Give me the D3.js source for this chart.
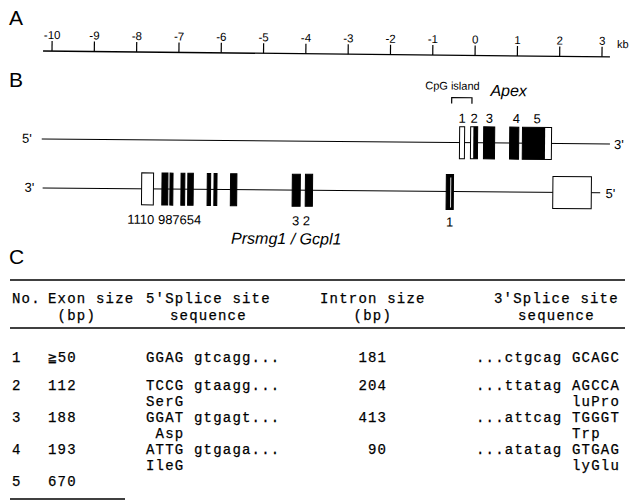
<!DOCTYPE html>
<html>
<head>
<meta charset="utf-8">
<script src="https://cdn.jsdelivr.net/npm/d3@7"></script>
<style>
  body { margin: 0; background: #fff; }
  svg { display: block; }
  text { font-family: "Liberation Sans", Arial, sans-serif; fill: #000; }
  .mono { font-family: "Liberation Mono", "Courier New", monospace; white-space: pre; stroke: #000; stroke-width: 0.25px; }
</style>
</head>
<body>
<svg id="fig" width="629" height="502"></svg>
<script>
// ---- panel A: kb scale ----
const kbTicks = [-10, -9, -8, -7, -6, -5, -4, -3, -2, -1, 0, 1, 2, 3];

// ---- panel B: Apex (upper strand), exon limits in kb ----
const apexExonNo = [1, 2, 3, 4, 5];
const apexStart  = [-0.355, -0.095, 0.213, 0.829, 1.130];
const apexEnd    = [-0.237,  0.071, 0.474, 1.043, 1.818];
const apexCdsStart = [null, -0.030, 0.213, 0.829, 1.130];
const apexCdsEnd   = [null,  0.071, 0.474, 1.043, 1.666];
const cpgIsland = [-0.62, -0.07];

// ---- panel B: Prsmg1 / Gcpl1 (lower strand) ----
const prsmgExonNo = [11, 10, 9, 8, 7, 6, 5, 4, 3, 2, 1];
const prsmgStart  = [-7.86, -7.38, -7.19, -6.93, -6.77, -6.31, -6.15, -5.76, -4.30, -3.99, -0.66];
const prsmgEnd    = [-7.58, -7.24, -7.12, -6.84, -6.64, -6.23, -6.08, -5.61, -4.11, -3.82, -0.49];
const prsmgCoding = [false, true, true, true, true, true, true, true, true, true, true];
const prsmgLabelRuns = ["1110 987654", "3 2", "1"];
const otherExon = [1.86, 2.77];
const upperLine = [-10.23, 3.20];
const lowerLine = [-10.20, 2.98];

// ---- panel C: table ----
const headerTop = ["No.", "Exon size", "5'Splice site", "Intron size", "3'Splice site"];
const headerBottom = ["", "(bp)", "sequence", "(bp)", "sequence"];
const rowNo      = ["1", "2", "3", "4", "5"];
const exonSize   = ["\u226750", "112", "188", "193", "670"];
const splice5    = ["GGAG gtcagg...", "TCCG gtaagg...", "GGAT gtgagt...", "ATTG gtgaga...", ""];
const splice5Aa  = ["", "SerG", " Asp", "IleG", ""];
const intronSize = ["181", "204", "413", "90", ""];
const splice3    = ["...ctgcag GCAGC", "...ttatag AGCCA", "...attcag TGGGT", "...atatag GTGAG", ""];
const splice3Aa  = ["", "          luPro", "          Trp", "          lyGlu", ""];

const svg = d3.select("#fig");
const x = d3.scaleLinear().domain([-10, 3]).range([51.5, 601.5]);

// panel letters
svg.selectAll("text.panel")
  .data([["A", 25], ["B", 87], ["C", 264]])
  .enter().append("text")
  .attr("class", "panel")
  .attr("x", 9).attr("y", d => d[1])
  .style("font-size", "21px")
  .text(d => d[0]);

// ---- A: axis (scan is slightly tilted) ----
const gA = svg.append("g").attr("transform", "translate(0,51) rotate(0.6,43,0)");
gA.append("line")
  .attr("x1", x(-10.2)).attr("x2", x(3.2))
  .attr("stroke", "#000").attr("stroke-width", 1.3);
gA.append("g")
  .call(d3.axisTop(x).tickValues(kbTicks).tickSize(10).tickPadding(2).tickFormat(d => String(d)))
  .call(g => g.select(".domain").remove())
  .call(g => g.selectAll(".tick line").attr("stroke-width", 1.2))
  .call(g => g.selectAll(".tick text").attr("font-family", null).style("font-size", "11.5px"));
gA.append("text")
  .attr("x", 617).attr("y", -9)
  .style("font-size", "11px")
  .text("kb");

// ---- B: gene maps ----
const gB = svg.append("g").attr("transform", "rotate(0.5,42,139)");
const yUp = 139, yLo = 188, h = 32;

// upper strand: Apex
gB.append("line")
  .attr("x1", x(upperLine[0])).attr("x2", x(upperLine[1]))
  .attr("y1", yUp).attr("y2", yUp).attr("stroke", "#000");
gB.append("text").attr("x", 22).attr("y", yUp + 4).style("font-size", "13px").text("5'");
gB.append("text").attr("x", 614).attr("y", yUp + 5).style("font-size", "13px").text("3'");

const apex = apexExonNo.map((n, i) => ({
  n, s: apexStart[i], e: apexEnd[i], cs: apexCdsStart[i], ce: apexCdsEnd[i]
}));
gB.selectAll("rect.apex")
  .data(apex).enter().append("rect")
  .attr("class", "apex")
  .attr("x", d => x(d.s)).attr("width", d => x(d.e) - x(d.s))
  .attr("y", yUp - h / 2).attr("height", h)
  .attr("fill", "#fff").attr("stroke", "#000").attr("stroke-width", 1);
gB.selectAll("rect.apexcds")
  .data(apex.filter(d => d.cs !== null)).enter().append("rect")
  .attr("class", "apexcds")
  .attr("x", d => x(d.cs)).attr("width", d => x(d.ce) - x(d.cs))
  .attr("y", yUp - h / 2).attr("height", h)
  .attr("fill", "#000");
gB.selectAll("text.apexno")
  .data(apex).enter().append("text")
  .attr("class", "apexno")
  .attr("x", d => (x(d.s) + x(d.e)) / 2 + (d.n === 4 ? 2 : 0))
  .attr("y", yUp - h / 2 - 4)
  .attr("text-anchor", "middle")
  .style("font-size", "13px")
  .text(d => d.n);

// CpG island bracket
gB.append("path")
  .attr("d", `M${x(cpgIsland[0]) + 3},${yUp - 39} V${yUp - 45} H${x(cpgIsland[1])} V${yUp - 39}`)
  .attr("fill", "none").attr("stroke", "#000").attr("stroke-width", 1.2);
gB.append("text").attr("x", 452).attr("y", yUp - 53)
  .attr("text-anchor", "middle").style("font-size", "11px").text("CpG island");
gB.append("text").attr("x", 490).attr("y", yUp - 47)
  .style("font-size", "16px").style("font-style", "italic").text("Apex");

// lower strand: Prsmg1 / Gcpl1
gB.append("line")
  .attr("x1", x(lowerLine[0])).attr("x2", x(lowerLine[1]))
  .attr("y1", yLo).attr("y2", yLo).attr("stroke", "#000");
gB.append("text").attr("x", 25).attr("y", yLo + 4).style("font-size", "13px").text("3'");
gB.append("text").attr("x", 606).attr("y", yLo + 5).style("font-size", "13px").text("5'");

const prsmg = prsmgExonNo.map((n, i) => ({ n, s: prsmgStart[i], e: prsmgEnd[i], c: prsmgCoding[i] }));
gB.selectAll("rect.prsmg")
  .data(prsmg).enter().append("rect")
  .attr("class", "prsmg")
  .attr("x", d => x(d.s)).attr("width", d => x(d.e) - x(d.s))
  .attr("y", d => yLo - h / 2 - (d.n === 1 ? 1 : 0))
  .attr("height", d => h + (d.n === 1 ? 3 : 0))
  .attr("fill", d => d.c ? "#000" : "#fff")
  .attr("stroke", "#000").attr("stroke-width", 1);
// light stripe inside exon 1
const e1 = prsmg.find(d => d.n === 1);
gB.append("line")
  .attr("x1", x(e1.s) + (x(e1.e) - x(e1.s)) * 0.62).attr("x2", x(e1.s) + (x(e1.e) - x(e1.s)) * 0.62)
  .attr("y1", yLo - h / 2 + 2).attr("y2", yLo + h / 2)
  .attr("stroke", "#ddd").attr("stroke-width", 1);
gB.append("rect")
  .attr("x", x(otherExon[0])).attr("width", x(otherExon[1]) - x(otherExon[0]))
  .attr("y", yLo - h / 2).attr("height", h)
  .attr("fill", "#fff").attr("stroke", "#000").attr("stroke-width", 1);

const byNo = n => prsmg.find(d => d.n === n);
const runAnchors = [
  { x: x(byNo(11).s) - 14, anchor: "start" },
  { x: x(byNo(3).s), anchor: "start" },
  { x: (x(byNo(1).s) + x(byNo(1).e)) / 2, anchor: "middle" }
];
gB.selectAll("text.prsmgno")
  .data(prsmgLabelRuns).enter().append("text")
  .attr("class", "prsmgno")
  .attr("x", (d, i) => runAnchors[i].x)
  .attr("y", yLo + h / 2 + 19)
  .attr("text-anchor", (d, i) => runAnchors[i].anchor)
  .style("font-size", "13px").style("white-space", "pre")
  .text(d => d);
gB.append("text").attr("x", 232).attr("y", yLo + 54)
  .style("font-size", "16px").style("font-style", "italic").text("Prsmg1 / Gcpl1");

// ---- C: table ----
const fs = 14, ls = 1.2, cw = fs * 0.6 + ls;
const colX = [12, 48, 146, 320, 494];
const gC = svg.append("g").style("font-size", fs + "px");

const rule = (y, x1, x2) => svg.append("line")
  .attr("x1", x1).attr("x2", x2).attr("y1", y).attr("y2", y)
  .attr("stroke", "#000").attr("stroke-width", 1.3);
rule(280, 10, 625);
rule(328, 10, 625);
rule(499, 10, 125);

const put = (t, xx, yy, anchor) => gC.append("text").attr("class", "mono")
  .style("letter-spacing", ls + "px")
  .attr("x", xx).attr("y", yy).attr("text-anchor", anchor || "start").text(t);

headerTop.forEach((t, i) => put(t, colX[i], 303));
headerBottom.forEach((t, i) => {
  if (!t) return;
  if (i === 1) put(t, colX[i] + cw, 320);
  else put(t, colX[i] + (headerTop[i].length - t.length) * cw / 2, 320);
});

const rowY = [362, 390, 422, 454, 486];
const sub = 16;
const spl3X = 476;
rowNo.forEach((r, i) => {
  const y = rowY[i];
  put(r, colX[0], y);
  put(exonSize[i], colX[1], y);
  if (splice5[i]) put(splice5[i], colX[2], y);
  if (splice5Aa[i]) put(splice5Aa[i], colX[2], y + sub);
  if (intronSize[i]) put(intronSize[i], colX[3] + 7 * cw, y, "end");
  if (splice3[i]) put(splice3[i], spl3X, y);
  if (splice3Aa[i]) put(splice3Aa[i], spl3X, y + sub);
});
</script>
</body>
</html>
